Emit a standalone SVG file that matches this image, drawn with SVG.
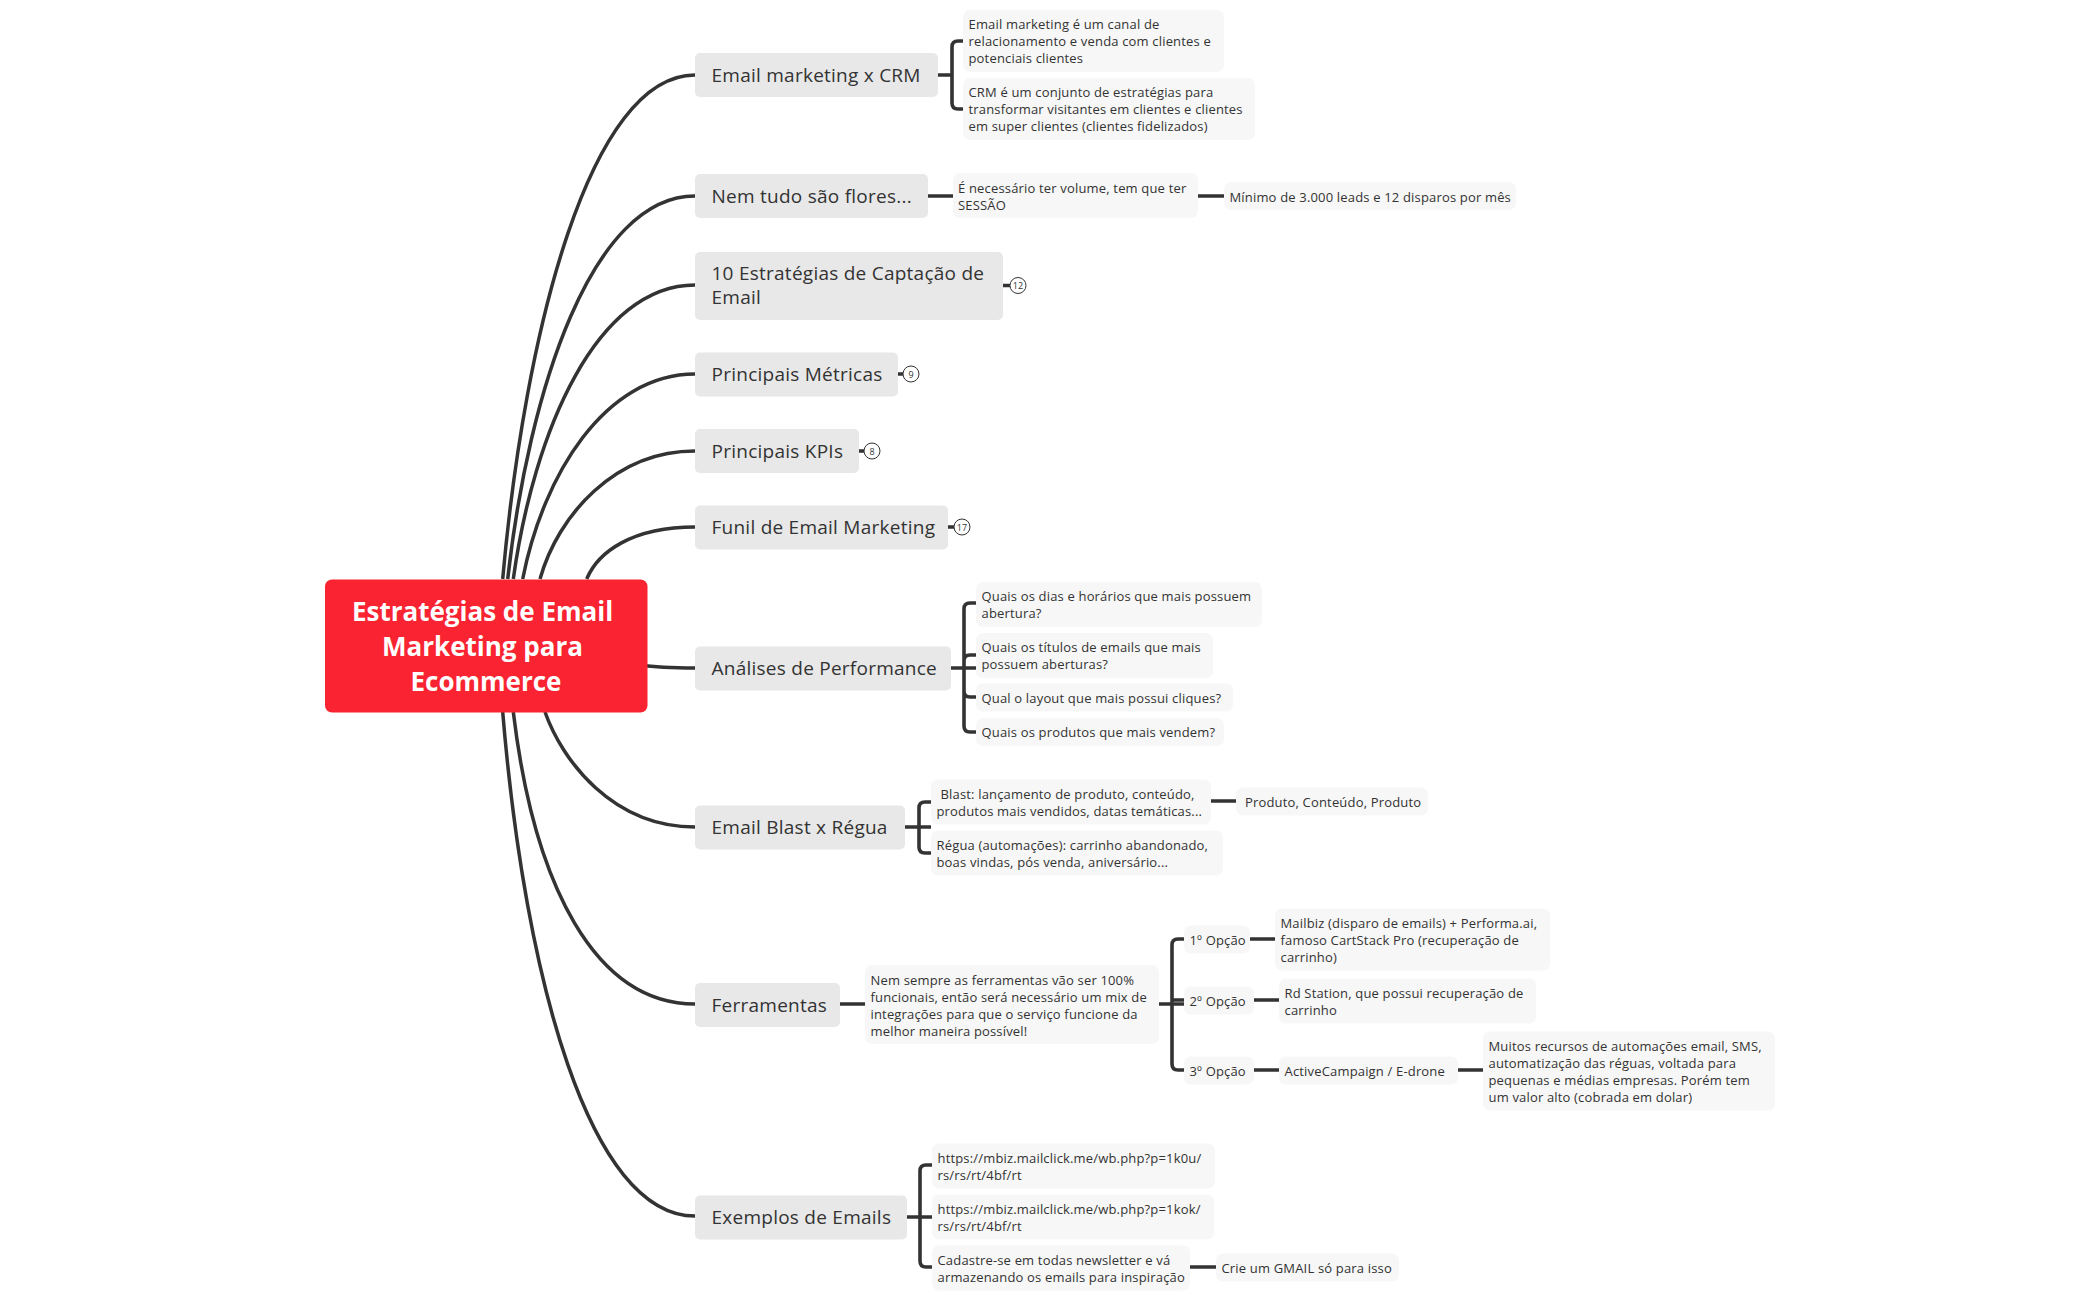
<svg xmlns="http://www.w3.org/2000/svg" width="2100" height="1300" viewBox="0 0 2100 1300">
<style>
text{font-family:"Open Sans","Liberation Sans",sans-serif;fill:#333}
.p{fill:#e8e8e8}.l{fill:#f7f7f7}
.pt{font-size:19px;letter-spacing:.25px}
.lt{font-size:13px;letter-spacing:.17px}
.ct{font-size:26px;font-weight:700;fill:#fff;text-anchor:middle}
.c{fill:none;stroke:#333;stroke-width:3.5;stroke-linecap:butt}
.s{fill:none;stroke:#333;stroke-width:3.6}
.b{fill:#fff;stroke:#333;stroke-width:1}
.bt{font-size:9px;text-anchor:middle}
</style>
<rect width="2100" height="1300" fill="#fff"/>
<g id="connectors">
<path class="c" d="M502.7 579C525 330 590 75 695 75"/>
<path class="c" d="M507.7 579C529 389 592 196 695 196"/>
<path class="c" d="M513.3 579C534 430 597 285 695 285"/>
<path class="c" d="M522.7 579C543 475 605 374 695 374"/>
<path class="c" d="M540 579C558 515 615 451 695 451"/>
<path class="c" d="M586.7 579C598 552 632 527 695 527"/>
<path class="c" d="M640 665Q660 668 695 668"/>
<path class="c" d="M545 712C562 760 612 827 695 827"/>
<path class="c" d="M513.3 712C534 885 595 1004 695 1004"/>
<path class="c" d="M502.7 712C525 979 589.5 1216 695 1216"/>
<path class="s" d="M938 75H952M963 41H958Q952 41 952 47V103Q952 109 958 109H963"/>
<path class="s" d="M927 196H953M1198 196H1224"/>
<path class="s" d="M1003 285.5H1010M897 374H903M858 451H864M948 527H954"/>
<path class="s" d="M951 668H976M976 603H970Q964 603 964 609V726Q964 732 970 732H976M976 655H970Q964 655 964 661M964 691Q964 697 970 697H976"/>
<path class="s" d="M905 827H931M931 802H925Q919 802 919 808V847Q919 853 925 853H931M1211 801H1236"/>
<path class="s" d="M840 1004H865M1159 1004H1184M1184 939H1178Q1172 939 1172 945V1064Q1172 1070 1178 1070H1184M1172 1000H1184"/>
<path class="s" d="M1250 939H1275M1254 1000H1279M1254 1070H1279M1458 1070H1483"/>
<path class="s" d="M907 1217H932M932 1165H926Q920 1165 920 1171V1261Q920 1267 926 1267H932M1190 1267H1216"/>
</g>
<g id="central"><rect x="325" y="579.5" width="322.5" height="133" rx="7" fill="#f92331"/>
<text class="ct"><tspan x="482.5" y="620.5">Estratégias de Email</tspan><tspan x="482.5" y="655.5">Marketing para</tspan><tspan x="486" y="690.5">Ecommerce</tspan></text></g>
<g id="n1"><rect class="p" x="695" y="53" width="243" height="44" rx="5"/><text class="pt" x="711.5" y="81.5">Email marketing x CRM</text></g>
<g id="n1a"><rect class="l" x="963" y="10" width="261" height="62" rx="7"/><text class="lt"><tspan x="968.5" y="29">Email marketing é um canal de</tspan><tspan x="968.5" y="46">relacionamento e venda com clientes e</tspan><tspan x="968.5" y="63">potenciais clientes</tspan></text></g>
<g id="n1b"><rect class="l" x="963" y="78" width="292" height="62" rx="7"/><text class="lt"><tspan x="968.5" y="97">CRM é um conjunto de estratégias para</tspan><tspan x="968.5" y="114">transformar visitantes em clientes e clientes</tspan><tspan x="968.5" y="131">em super clientes (clientes fidelizados)</tspan></text></g>
<g id="n2"><rect class="p" x="695" y="174" width="233" height="44" rx="5"/><text class="pt" x="711.5" y="202.5">Nem tudo são flores...</text></g>
<g id="n2a"><rect class="l" x="953" y="173" width="245" height="45" rx="7"/><text class="lt"><tspan x="958" y="192.5">É necessário ter volume, tem que ter</tspan><tspan x="958" y="209.5">SESSÃO</tspan></text></g>
<g id="n2b"><rect class="l" x="1224" y="182" width="292" height="28" rx="7"/><text class="lt" x="1229.5" y="201.5">Mínimo de 3.000 leads e 12 disparos por mês</text></g>
<g id="n3"><rect class="p" x="695" y="252" width="308" height="68" rx="5"/><text class="pt"><tspan x="711.5" y="280">10 Estratégias de Captação de</tspan><tspan x="711.5" y="304">Email</tspan></text></g>
<g id="n3b"><circle class="b" cx="1018" cy="285.5" r="8"/><text class="bt" x="1018" y="288.7">12</text></g>
<g id="n4"><rect class="p" x="695" y="352.5" width="203" height="44" rx="5"/><text class="pt" x="711.5" y="381">Principais Métricas</text></g>
<g id="n4b"><circle class="b" cx="911" cy="374" r="8"/><text class="bt" x="911" y="377.5">9</text></g>
<g id="n5"><rect class="p" x="695" y="429" width="164" height="44" rx="5"/><text class="pt" x="711.5" y="457.5">Principais KPIs</text></g>
<g id="n5b"><circle class="b" cx="872" cy="451" r="8"/><text class="bt" x="872" y="454.5">8</text></g>
<g id="n6"><rect class="p" x="695" y="505.5" width="253" height="44" rx="5"/><text class="pt" x="711.5" y="534">Funil de Email Marketing</text></g>
<g id="n6b"><circle class="b" cx="962" cy="527" r="8"/><text class="bt" x="962" y="530.5">17</text></g>
<g id="n7"><rect class="p" x="695" y="646.5" width="256" height="44" rx="5"/><text class="pt" x="711.5" y="675">Análises de Performance</text></g>
<g id="n7a"><rect class="l" x="976" y="582" width="286" height="45" rx="7"/><text class="lt"><tspan x="981.5" y="600.5">Quais os dias e horários que mais possuem</tspan><tspan x="981.5" y="617.5">abertura?</tspan></text></g>
<g id="n7b"><rect class="l" x="976" y="633" width="237" height="45" rx="7"/><text class="lt"><tspan x="981.5" y="651.5">Quais os títulos de emails que mais</tspan><tspan x="981.5" y="668.5">possuem aberturas?</tspan></text></g>
<g id="n7c"><rect class="l" x="976" y="683.5" width="257" height="28" rx="7"/><text class="lt" x="981.5" y="702.5">Qual o layout que mais possui cliques?</text></g>
<g id="n7d"><rect class="l" x="976" y="718" width="248" height="28" rx="7"/><text class="lt" x="981.5" y="737">Quais os produtos que mais vendem?</text></g>
<g id="n8"><rect class="p" x="695" y="805.5" width="210" height="44" rx="5"/><text class="pt" x="711.5" y="834">Email Blast x Régua</text></g>
<g id="n8a"><rect class="l" x="931" y="779.5" width="280" height="45" rx="7"/><text class="lt"><tspan x="940.5" y="798.5">Blast: lançamento de produto, conteúdo,</tspan><tspan x="936.5" y="815.5">produtos mais vendidos, datas temáticas...</tspan></text></g>
<g id="n8b"><rect class="l" x="931" y="830.5" width="292" height="45" rx="7"/><text class="lt"><tspan x="936.5" y="849.5">Régua (automações): carrinho abandonado,</tspan><tspan x="936.5" y="866.5">boas vindas, pós venda, aniversário...</tspan></text></g>
<g id="n8c"><rect class="l" x="1236" y="787.5" width="192" height="28" rx="7"/><text class="lt" x="1245" y="806.5">Produto, Conteúdo, Produto</text></g>
<g id="n9"><rect class="p" x="695" y="983" width="145" height="44" rx="5"/><text class="pt" x="711.5" y="1011.5">Ferramentas</text></g>
<g id="n9a"><rect class="l" x="865" y="965" width="294" height="79" rx="7"/><text class="lt"><tspan x="870.5" y="984.5">Nem sempre as ferramentas vão ser 100%</tspan><tspan x="870.5" y="1001.5">funcionais, então será necessário um mix de</tspan><tspan x="870.5" y="1018.5">integrações para que o serviço funcione da</tspan><tspan x="870.5" y="1035.5">melhor maneira possível!</tspan></text></g>
<g id="n10"><rect class="l" x="1184" y="925.5" width="66" height="28" rx="7"/><text class="lt" x="1189.5" y="944.5">1º Opção</text></g>
<g id="n10a"><rect class="l" x="1275" y="908.5" width="275" height="62" rx="7"/><text class="lt"><tspan x="1280.5" y="927.5">Mailbiz (disparo de emails) + Performa.ai,</tspan><tspan x="1280.5" y="944.5">famoso CartStack Pro (recuperação de</tspan><tspan x="1280.5" y="961.5">carrinho)</tspan></text></g>
<g id="n11"><rect class="l" x="1184" y="986.5" width="70" height="28" rx="7"/><text class="lt" x="1189.5" y="1005.5">2º Opção</text></g>
<g id="n11a"><rect class="l" x="1279" y="978.5" width="257" height="45" rx="7"/><text class="lt"><tspan x="1284.5" y="997.5">Rd Station, que possui recuperação de</tspan><tspan x="1284.5" y="1014.5">carrinho</tspan></text></g>
<g id="n12"><rect class="l" x="1184" y="1056.5" width="70" height="28" rx="7"/><text class="lt" x="1189.5" y="1075.5">3º Opção</text></g>
<g id="n12a"><rect class="l" x="1279" y="1056.5" width="179" height="28" rx="7"/><text class="lt" x="1284.5" y="1075.5">ActiveCampaign / E-drone</text></g>
<g id="n12b"><rect class="l" x="1483" y="1031.5" width="292" height="79" rx="7"/><text class="lt"><tspan x="1488.5" y="1050.5">Muitos recursos de automações email, SMS,</tspan><tspan x="1488.5" y="1067.5">automatização das réguas, voltada para</tspan><tspan x="1488.5" y="1084.5">pequenas e médias empresas. Porém tem</tspan><tspan x="1488.5" y="1101.5">um valor alto (cobrada em dolar)</tspan></text></g>
<g id="n13"><rect class="p" x="695" y="1195.5" width="212" height="44" rx="5"/><text class="pt" x="711.5" y="1224">Exemplos de Emails</text></g>
<g id="n13a"><rect class="l" x="932" y="1143.5" width="283" height="45" rx="7"/><text class="lt"><tspan x="937.5" y="1162.5">https://mbiz.mailclick.me/wb.php?p=1k0u/</tspan><tspan x="937.5" y="1179.5">rs/rs/rt/4bf/rt</tspan></text></g>
<g id="n13b"><rect class="l" x="932" y="1194.5" width="282" height="45" rx="7"/><text class="lt"><tspan x="937.5" y="1213.5">https://mbiz.mailclick.me/wb.php?p=1kok/</tspan><tspan x="937.5" y="1230.5">rs/rs/rt/4bf/rt</tspan></text></g>
<g id="n13c"><rect class="l" x="932" y="1245.5" width="258" height="45" rx="7"/><text class="lt"><tspan x="937.5" y="1264.5">Cadastre-se em todas newsletter e vá</tspan><tspan x="937.5" y="1281.5">armazenando os emails para inspiração</tspan></text></g>
<g id="n13d"><rect class="l" x="1216" y="1253.5" width="183" height="28" rx="7"/><text class="lt" x="1221.5" y="1272.5">Crie um GMAIL só para isso</text></g>
</svg>
